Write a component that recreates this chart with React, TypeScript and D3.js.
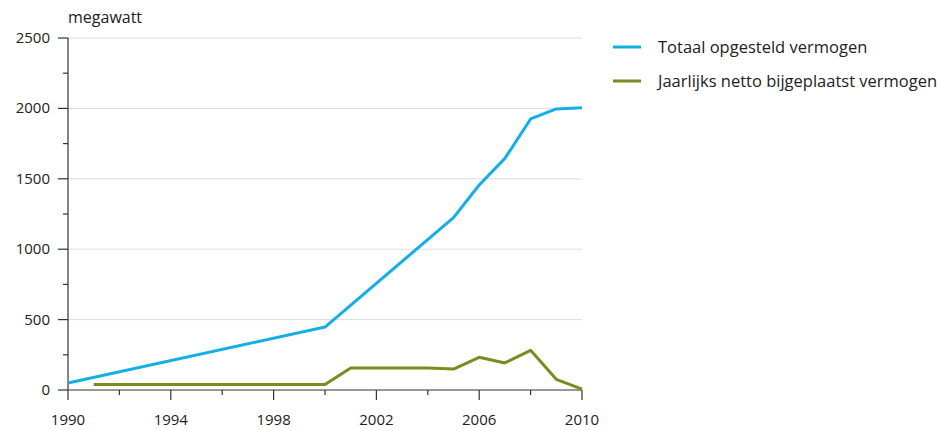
import * as d3 from 'd3';

const years = [1990, 2000, 2005, 2006, 2007, 2008, 2009, 2010];
const totaal = [50, 447, 1224, 1456, 1645, 1925, 1996, 2004];
const bijYears = [1991, 1992, 1993, 1994, 1995, 1996, 1997, 1998, 1999, 2000, 2001, 2002, 2003, 2004, 2005, 2006, 2007, 2008, 2009, 2010];
const bijgeplaatst = [39, 39, 39, 39, 39, 39, 39, 39, 39, 39, 157, 157, 157, 157, 149, 232, 192, 282, 76, 6];
const xTicks = [1990, 1994, 1998, 2002, 2006, 2010];
const yTicks = [0, 500, 1000, 1500, 2000, 2500];
const seriesNames = ['Totaal opgesteld vermogen', 'Jaarlijks netto bijgeplaatst vermogen'];

const width = 939;
const height = 430;
const left = 68;
const right = 582;
const top = 38;
const bottom = 390;
const blue = '#14aee6';
const green = '#7a8b1f';
const font = "'Open Sans', sans-serif";

export default function App() {
  const x = d3.scaleLinear([1990, 2010], [left, right]);
  const y = d3.scaleLinear([0, 2500], [bottom, top]);
  const line = d3.line<[number, number]>((d) => x(d[0]), (d) => y(d[1]));
  const blueData = years.map((yr, i) => [yr, totaal[i]] as [number, number]);
  const greenData = bijYears.map((yr, i) => [yr, bijgeplaatst[i]] as [number, number]);
  const minorX = d3.range(1990, 2011, 2).filter((v) => !xTicks.includes(v));
  const minorY = d3.range(250, 2500, 500);

  return (
    <svg width={width} height={height} style={{ position: 'absolute', left: 0, top: 0 }} fontFamily={font}>
      {yTicks.slice(1).map((t) => (
        <line key={t} x1={left} x2={right} y1={y(t)} y2={y(t)} stroke="#dcdcdc" strokeWidth={1} />
      ))}
      <text x={left} y={23} fontSize={16} fill="#222">megawatt</text>

      {/* y axis */}
      <line x1={left} x2={left} y1={top} y2={bottom} stroke="#333" strokeWidth={1.2} />
      {yTicks.map((t) => (
        <g key={t}>
          <line x1={left - 10} x2={left} y1={y(t)} y2={y(t)} stroke="#333" strokeWidth={1.2} />
          <text x={50} y={y(t) + 5} fontSize={15} textAnchor="end" fill="#222">{t}</text>
        </g>
      ))}
      {minorY.map((t) => (
        <line key={t} x1={left - 5} x2={left} y1={y(t)} y2={y(t)} stroke="#333" strokeWidth={1.2} />
      ))}

      {/* x axis */}
      <line x1={left} x2={right} y1={bottom} y2={bottom} stroke="#333" strokeWidth={1.2} />
      {xTicks.map((t) => (
        <g key={t}>
          <line x1={x(t)} x2={x(t)} y1={bottom} y2={bottom + 10} stroke="#333" strokeWidth={1.2} />
          <text x={x(t)} y={425} fontSize={15} textAnchor="middle" fill="#222">{t}</text>
        </g>
      ))}
      {minorX.map((t) => (
        <line key={t} x1={x(t)} x2={x(t)} y1={bottom} y2={bottom + 5} stroke="#333" strokeWidth={1.2} />
      ))}

      <path d={line(greenData) ?? ''} fill="none" stroke={green} strokeWidth={3} strokeLinejoin="round" />
      <path d={line(blueData) ?? ''} fill="none" stroke={blue} strokeWidth={3} strokeLinejoin="round" />

      {/* legend */}
      {seriesNames.map((name, i) => (
        <g key={name} transform={`translate(613, ${47 + i * 34})`}>
          <line x1={0} x2={28} y1={0} y2={0} stroke={i === 0 ? blue : green} strokeWidth={3} />
          <text x={45} y={6} fontSize={16.5} fill="#222">{name}</text>
        </g>
      ))}
    </svg>
  );
}
